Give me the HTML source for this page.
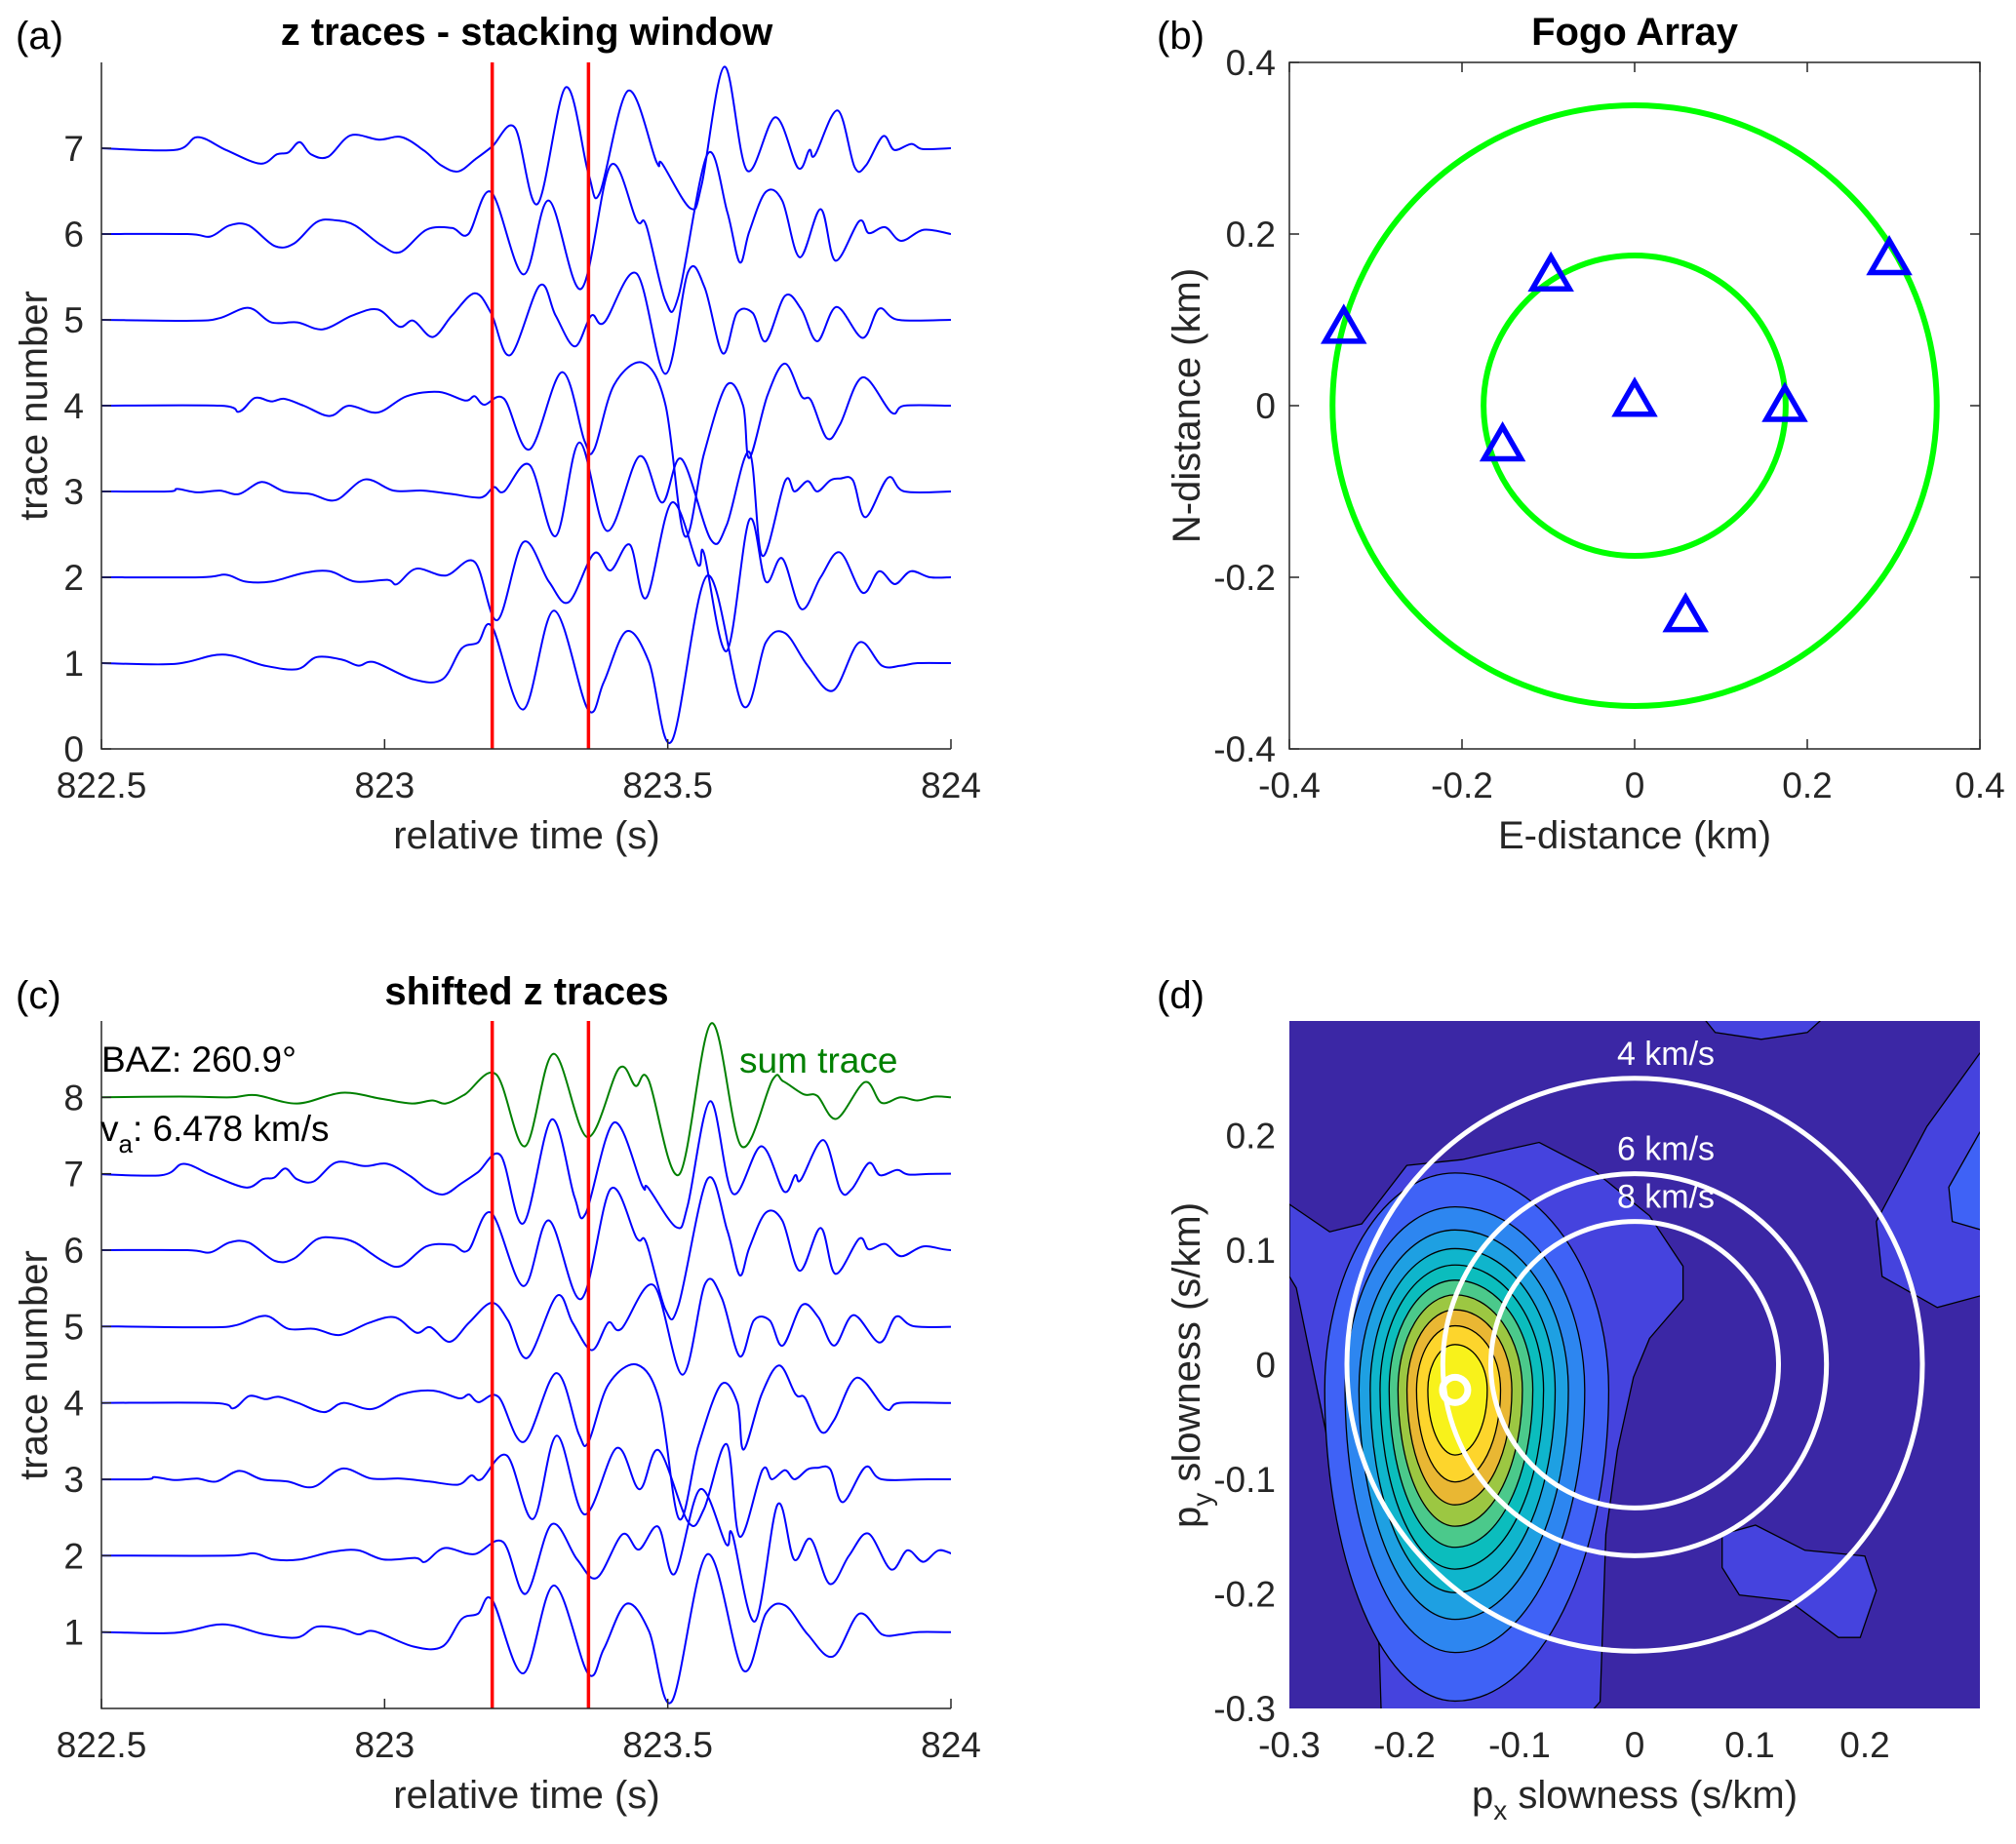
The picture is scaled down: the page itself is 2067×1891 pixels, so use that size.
<!DOCTYPE html>
<html><head><meta charset="utf-8"><style>
html,body{margin:0;padding:0;background:#fff;}
svg{display:block;font-family:"Liberation Sans",Arial,sans-serif;}
</style></head><body>
<svg id="fig" width="2067" height="1891" viewBox="0 0 2067 1891" xmlns="http://www.w3.org/2000/svg">
<defs><clipPath id="clipD"><rect x="1322" y="1047" width="708" height="705"/></clipPath>
<clipPath id="clipA"><rect x="104" y="20" width="871" height="748"/></clipPath>
<clipPath id="clipC"><rect x="104" y="1000" width="871" height="752"/></clipPath></defs>
<g id="gA"></g>
<g id="gB"></g>
<g id="gC"></g>
<g id="gD"></g>
</svg>
<script>
// ---------- DATA ----------
const traceTimes = [
 [822.5,822.629,822.714,822.788,822.846,822.88,822.925,822.954,822.982,823.051,823.102,823.136,823.165,823.19,823.245,823.299,823.359,823.387,823.427,823.467,823.507,823.57,823.633,823.673,823.707,823.747,823.792,823.838,823.878,823.912,823.941,824],
 [822.5,822.675,822.72,822.754,822.8,822.857,822.903,822.948,823.005,823.022,823.056,823.108,823.159,823.199,823.245,823.29,823.325,823.37,823.399,823.433,823.462,823.507,823.553,823.564,823.604,823.644,823.673,823.702,823.736,823.77,823.804,823.844,823.873,823.901,823.929,823.963,824],
 [822.5,822.617,822.634,822.669,822.709,822.743,822.783,822.823,822.869,822.914,822.965,823.016,823.068,823.119,823.17,823.193,823.211,823.256,823.302,823.344,823.393,823.45,823.49,823.524,823.576,823.604,823.644,823.667,823.707,823.724,823.747,823.764,823.787,823.804,823.827,823.849,823.889,823.918,824],
 [822.5,822.709,822.743,822.771,822.8,822.823,822.857,822.903,822.937,822.988,823.039,823.096,823.142,823.159,823.176,823.211,823.256,823.313,823.353,823.37,823.405,823.456,823.496,823.53,823.564,823.604,823.633,823.644,823.676,823.707,823.736,823.753,823.781,823.804,823.844,823.895,823.918,824],
 [822.5,822.663,822.709,822.76,822.8,822.846,822.891,822.943,822.988,823.026,823.051,823.085,823.119,823.159,823.188,823.222,823.274,823.302,823.336,823.365,823.388,823.445,823.496,823.536,823.565,823.597,823.622,823.65,823.673,823.707,823.736,823.764,823.798,823.844,823.873,823.907,824],
 [822.5,822.652,822.692,822.726,822.76,822.806,822.84,822.88,822.914,822.948,822.994,823.028,823.074,823.119,823.148,823.188,823.245,823.29,823.347,823.399,823.445,823.462,823.496,823.519,823.57,823.605,823.627,823.644,823.673,823.702,823.733,823.77,823.796,823.838,823.855,823.884,823.912,823.952,824],
 [822.5,822.63,822.67,822.72,822.78,822.81,822.83,822.85,822.87,822.9,822.94,822.99,823.03,823.07,823.1,823.13,823.16,823.19,823.23,823.27,823.32,823.36,823.38,823.43,823.48,823.49,823.54,823.56,823.6,823.64,823.69,823.73,823.75,823.76,823.8,823.83,823.85,823.88,823.9,823.93,823.95,824]
];
const traceAmps = [
 [0,-0.01,0.1,-0.03,-0.07,0.07,0.04,-0.03,0.01,-0.19,-0.19,0.17,0.24,0.42,-0.54,0.61,-0.54,-0.22,0.37,0.01,-0.91,1.02,-0.5,0.24,0.35,-0.03,-0.32,0.24,-0.03,-0.03,0,0],
 [0,0,0.03,-0.05,-0.05,0.05,0.07,-0.05,-0.03,-0.08,0.1,0.02,0.18,-0.5,0.41,-0.05,-0.29,0.28,0.08,0.38,-0.24,0.87,0.15,0.28,-0.86,0.67,-0.05,0.22,-0.37,0,0.29,-0.18,0.07,-0.08,0.07,0,0],
 [0,0,0.03,-0.01,0.01,-0.03,0.11,0,-0.03,-0.1,0.14,0.01,0.01,-0.03,-0.07,0.05,0,0.31,-0.52,0.57,-0.46,0.41,-0.13,0.38,-0.56,-0.39,0.46,-0.75,0.12,0,0.12,0,0.13,0.15,0.13,-0.3,0.16,0,0],
 [0,0,-0.07,0.09,0.05,0.08,0,-0.12,0,-0.08,0.11,0.16,0.06,0.11,0.01,0.08,-0.51,0.39,-0.41,-0.51,0.24,0.5,0.01,-1.52,-0.56,0.24,0,-0.61,0.12,0.49,0.11,0.06,-0.38,-0.22,0.33,-0.08,0,0],
 [0,-0.01,0.02,0.14,-0.03,-0.03,-0.11,0.05,0.12,-0.08,-0.01,-0.2,0.05,0.31,0.08,-0.41,0.4,0.05,-0.31,0.05,-0.03,0.54,-0.63,0.56,0.38,-0.39,0.08,0.08,-0.25,0.28,0.12,-0.25,0.15,-0.21,0.13,0,0],
 [0,0,-0.03,0.1,0.1,-0.14,-0.11,0.14,0.16,0.1,-0.13,-0.21,0.05,0.07,0,0.49,-0.47,0.39,-0.64,0.8,0.16,0.1,-0.78,-0.72,0.93,0.26,-0.33,0.03,0.49,0.39,-0.27,0.29,-0.31,0.15,0.01,0.08,-0.08,0.05,0],
 [0,-0.02,0.13,-0.02,-0.18,-0.07,-0.05,0.07,-0.07,-0.1,0.15,0.1,0.13,-0.03,-0.2,-0.27,-0.13,0.02,0.24,-0.65,0.71,-0.3,-0.52,0.67,-0.16,-0.18,-0.7,-0.42,0.95,-0.26,0.36,-0.23,-0.02,-0.08,0.44,-0.22,-0.2,0.14,-0.02,0.05,-0.01,0]
];
const shiftsC = [0, 0.05, -0.04, -0.01, 0.03, 0.0, -0.025];
const sumTimes = [822.49,822.639,822.728,822.772,822.846,822.925,822.995,823.048,823.084,823.108,823.142,823.197,823.248,823.298,823.358,823.414,823.443,823.466,823.52,823.577,823.63,823.685,823.704,823.74,823.764,823.798,823.848,823.877,823.911,823.941,823.971,824];
const sumAmps = [0,0.01,0,0.03,-0.08,0.06,-0.02,-0.08,-0.04,-0.08,0.04,0.3,-0.64,0.57,-0.52,0.38,0.15,0.23,-1.01,0.97,-0.64,0.23,0.21,0.04,0.02,-0.28,0.2,-0.07,0,-0.04,0.01,0];
const windowTimes = [823.19, 823.36];
const timeTicks = [822.5, 823, 823.5, 824];
const timeTickLabels = ["822.5","823","823.5","824"];
const stationE = [-0.337,-0.097,0.295,0,0.174,-0.153,0.059];
const stationN = [0.091,0.152,0.171,0.006,0.0,-0.046,-0.245];
const ringRadii = [0.35, 0.175];
const kmTicks = [-0.4,-0.2,0,0.2,0.4];
const kmTickLabels = ["-0.4","-0.2","0","0.2","0.4"];
const slowTicks = [-0.3,-0.2,-0.1,0,0.1,0.2];
const slowTickLabels = ["-0.3","-0.2","-0.1","0","0.1","0.2"];
const velocities = [4, 6, 8];
const peakPx = -0.156, peakPy = -0.022;
const contourLevels = [0.09,0.18,0.27,0.36,0.45,0.54,0.63,0.72,0.81,0.9];
const contourColors = ["#3f62f6","#2d86f0","#1ea0e2","#0fb5cc","#0bbdbd","#4bc98b","#9cc742","#e9b733","#fdd52c","#f8f21b"];
const blobMainX = [-0.3,-0.265,-0.237,-0.198,-0.15,-0.083,-0.035,0.013,0.042,0.042,0.013,-0.001,-0.015,-0.025,-0.03,-0.044,-0.22,-0.222,-0.232,-0.26,-0.294,-0.3];
const blobMainY = [0.14,0.116,0.123,0.174,0.179,0.194,0.169,0.13,0.086,0.057,0.023,-0.011,-0.075,-0.148,-0.294,-0.31,-0.31,-0.245,-0.177,-0.099,0.067,0.077];
const blobTopX = [0.054,0.07,0.11,0.15,0.172];
const blobTopY = [0.31,0.29,0.284,0.29,0.31];
const blobRightX = [0.31,0.3,0.254,0.21,0.215,0.263,0.3,0.31];
const blobRightY = [0.28,0.272,0.208,0.125,0.077,0.05,0.06,0.06];
const blobRight2X = [0.31,0.3,0.273,0.276,0.3,0.31];
const blobRight2Y = [0.21,0.203,0.155,0.125,0.118,0.118];
const blobBRX = [0.076,0.105,0.148,0.2,0.21,0.196,0.177,0.134,0.091,0.076];
const blobBRY = [-0.148,-0.14,-0.162,-0.167,-0.197,-0.238,-0.238,-0.206,-0.201,-0.177];
const sigL = 0.073, sigR = 0.086, sigU = 0.122, sigD = 0.175;

// ---------- HELPERS ----------
const NS = "http://www.w3.org/2000/svg";
const TF = 37, LF = 40;
function lin(d0,d1,r0,r1){return v=>r0+(v-d0)*(r1-r0)/(d1-d0);}
function mk(parent, tag, attrs){const e=document.createElementNS(NS,tag);for(const k in attrs)e.setAttribute(k,attrs[k]);parent.appendChild(e);return e;}
function txt(parent, x, y, s, size, anchor, extra){const t=mk(parent,'text',Object.assign({x:x,y:y,'font-size':size,'text-anchor':anchor||'middle',fill:'#262626'},extra||{}));t.textContent=s;return t;}
function smooth(pts){
  let d=`M${pts[0][0].toFixed(1)},${pts[0][1].toFixed(1)}`;
  for(let i=0;i<pts.length-1;i++){
    const p0=pts[Math.max(0,i-1)],p1=pts[i],p2=pts[i+1],p3=pts[Math.min(pts.length-1,i+2)];
    const c1=[p1[0]+(p2[0]-p0[0])/6,p1[1]+(p2[1]-p0[1])/6];
    const c2=[p2[0]-(p3[0]-p1[0])/6,p2[1]-(p3[1]-p1[1])/6];
    d+=`C${c1[0].toFixed(1)},${c1[1].toFixed(1)} ${c2[0].toFixed(1)},${c2[1].toFixed(1)} ${p2[0].toFixed(1)},${p2[1].toFixed(1)}`;
  }
  return d;
}
function poly(xs,ys,X,Y){return 'M'+xs.map((v,i)=>X(v).toFixed(1)+','+Y(ys[i]).toFixed(1)).join('L')+'Z';}

// ---------- PANEL A ----------
(function(){
  const g=document.getElementById('gA');
  const X=lin(822.5,824,104,975), Y=lin(0,8,768,64);
  const tg=mk(g,'g',{'clip-path':'url(#clipA)'});
  traceTimes.forEach((ts,k)=>{
    const pts=ts.map((t,i)=>[X(t),Y(k+1+traceAmps[k][i])]);
    const p=mk(tg,'path',{d:smooth(pts),fill:'none',stroke:'#0000ff','stroke-width':2});
    
    
  });
  windowTimes.forEach((t,i)=>{
    const l=mk(g,'line',{x1:X(t),x2:X(t),y1:Y(0),y2:Y(8),stroke:'#ff0000','stroke-width':3.5});
    
    
  });
  mk(g,'path',{d:`M104,64V768H975`,fill:'none',stroke:'#262626','stroke-width':1.5});
  timeTicks.forEach((t,i)=>{mk(g,'line',{x1:X(t),x2:X(t),y1:768,y2:758,stroke:'#262626','stroke-width':1.5});
    const e=txt(g,X(t),818,timeTickLabels[i],TF);});
  for(let v=0;v<=7;v++){mk(g,'line',{x1:104,x2:114,y1:Y(v),y2:Y(v),stroke:'#262626','stroke-width':1.5});
    const e=txt(g,86,Y(v)+13,String(v),TF,'end');}
  txt(g,540,870,'relative time (s)',LF);
  txt(g,0,0,'trace number',LF,'middle',{transform:'translate(48,416) rotate(-90)'});
  txt(g,540,46,'z traces - stacking window',LF,'middle',{'font-weight':'bold',fill:'#000'});
  txt(g,16,50,'(a)',LF,'start',{fill:'#000'});
})();

// ---------- PANEL B ----------
(function(){
  const g=document.getElementById('gB');
  const X=lin(-0.4,0.4,1322,2030), Y=lin(-0.4,0.4,768,64);
  mk(g,'rect',{x:1322,y:64,width:708,height:704,fill:'#fff',stroke:'#262626','stroke-width':1.5});
  kmTicks.forEach((v,i)=>{
    mk(g,'line',{x1:X(v),x2:X(v),y1:768,y2:758,stroke:'#262626','stroke-width':1.5});
    mk(g,'line',{x1:X(v),x2:X(v),y1:64,y2:74,stroke:'#262626','stroke-width':1.5});
    mk(g,'line',{x1:1322,x2:1332,y1:Y(v),y2:Y(v),stroke:'#262626','stroke-width':1.5});
    mk(g,'line',{x1:2030,x2:2020,y1:Y(v),y2:Y(v),stroke:'#262626','stroke-width':1.5});
    const a=txt(g,X(v),818,kmTickLabels[i],TF);
    const b=txt(g,1308,Y(v)+13,kmTickLabels[i],TF,'end');
  });
  ringRadii.forEach((r,i)=>{
    const c=mk(g,'ellipse',{cx:X(0),cy:Y(0),rx:X(r)-X(0),ry:Y(0)-Y(r),fill:'none',stroke:'#00ff00','stroke-width':6});
    
    
  });
  stationE.forEach((e,i)=>{
    const cx=X(e), cy=Y(stationN[i]);
    const p=mk(g,'path',{d:`M${cx},${cy-19}L${cx+19},${cy+14}L${cx-19},${cy+14}Z`,fill:'none',stroke:'#0000ff','stroke-width':5.5});
    
    
  });
  txt(g,1676,870,'E-distance (km)',LF);
  txt(g,0,0,'N-distance (km)',LF,'middle',{transform:'translate(1230,416) rotate(-90)'});
  txt(g,1676,46,'Fogo Array',LF,'middle',{'font-weight':'bold',fill:'#000'});
  txt(g,1186,50,'(b)',LF,'start',{fill:'#000'});
})();

// ---------- PANEL C ----------
(function(){
  const g=document.getElementById('gC');
  const X=lin(822.5,824,104,975), Y=lin(0,9,1752,1047);
  const tg=mk(g,'g',{'clip-path':'url(#clipC)'});
  traceTimes.forEach((ts,k)=>{
    const pts=ts.map((t,i)=>[X(t+shiftsC[k]),Y(k+1+traceAmps[k][i])]);
    pts.unshift([X(822.4),Y(k+1)]);pts.push([X(824.1),Y(k+1)]);
    const p=mk(tg,'path',{d:smooth(pts),fill:'none',stroke:'#0000ff','stroke-width':2});
    
    
  });
  const sp=mk(tg,'path',{d:smooth(sumTimes.map((t,i)=>[X(t),Y(8+sumAmps[i])])),fill:'none',stroke:'#008000','stroke-width':2});
  
  
  windowTimes.forEach((t,i)=>{
    const l=mk(g,'line',{x1:X(t),x2:X(t),y1:Y(0),y2:Y(9),stroke:'#ff0000','stroke-width':3.5});
    
    
  });
  mk(g,'path',{d:`M104,1047V1752H975`,fill:'none',stroke:'#262626','stroke-width':1.5});
  timeTicks.forEach((t,i)=>{mk(g,'line',{x1:X(t),x2:X(t),y1:1752,y2:1742,stroke:'#262626','stroke-width':1.5});
    const e=txt(g,X(t),1802,timeTickLabels[i],TF);});
  for(let v=1;v<=8;v++){mk(g,'line',{x1:104,x2:114,y1:Y(v),y2:Y(v),stroke:'#262626','stroke-width':1.5});
    const e=txt(g,86,Y(v)+13,String(v),TF,'end');}
  txt(g,104,1099,'BAZ: 260.9°',TF,'start',{fill:'#000'});
  const va=mk(g,'text',{x:103,y:1170,'font-size':TF,fill:'#000'});
  va.innerHTML='v<tspan font-size="26" dy="12">a</tspan><tspan dy="-12">: 6.478 km/s</tspan>';
  txt(g,758,1100,'sum trace',TF,'start',{fill:'#008000'});
  txt(g,540,1854,'relative time (s)',LF);
  txt(g,0,0,'trace number',LF,'middle',{transform:'translate(48,1400) rotate(-90)'});
  txt(g,540,1030,'shifted z traces',LF,'middle',{'font-weight':'bold',fill:'#000'});
  txt(g,16,1034,'(c)',LF,'start',{fill:'#000'});
})();

// ---------- PANEL D ----------
(function(){
  const g=document.getElementById('gD');
  const X=lin(-0.3,0.3,1322,2030), Y=lin(-0.3,0.3,1752,1047);
  const cg=mk(g,'g',{'clip-path':'url(#clipD)'});
  mk(cg,'rect',{x:1322,y:1047,width:708,height:705,fill:'#3b27a5'});
  [[blobMainX,blobMainY],[blobTopX,blobTopY],[blobRightX,blobRightY],[blobBRX,blobBRY]].forEach((b,i)=>{
    const p=mk(cg,'path',{d:poly(b[0],b[1],X,Y),fill:'#4543de',stroke:'#000','stroke-width':1.3});
    
    
  });
  mk(cg,'path',{d:poly(blobRight2X,blobRight2Y,X,Y),fill:'#3f62f6',stroke:'#000','stroke-width':1.3});
  const cx=X(peakPx), cy=Y(peakPy);
  contourLevels.forEach((lv,i)=>{
    const s=Math.sqrt(-Math.log(lv));
    const rL=X(peakPx+sigL*s)-X(peakPx), rR=rL*sigR/sigL, rU=Y(0)-Y(sigU*s), rD=Y(0)-Y(sigD*s);
    const d=`M${cx-rL},${cy}A${rL},${rU} 0 0 1 ${cx},${cy-rU}A${rR},${rU} 0 0 1 ${cx+rR},${cy}A${rR},${rD} 0 0 1 ${cx},${cy+rD}A${rL},${rD} 0 0 1 ${cx-rL},${cy}Z`;
    const p=mk(cg,'path',{d:d,fill:contourColors[i],stroke:'#000','stroke-width':1.3});
    
    
  });
  velocities.forEach((v,i)=>{
    const r=1/v;
    const c=mk(cg,'ellipse',{cx:X(0),cy:Y(0),rx:X(r)-X(0),ry:Y(0)-Y(r),fill:'none',stroke:'#fff','stroke-width':5});
    
    
    const t=txt(g,X(0)+32,Y(r)-14,v+' km/s',34,'middle',{fill:'#fff'});
    
    
  });
  const pk=mk(cg,'circle',{cx:cx,cy:cy,r:13,fill:'none',stroke:'#fff','stroke-width':7});
  
  
  slowTicks.forEach((v,i)=>{
    const a=txt(g,X(v),1802,slowTickLabels[i],TF);
    const b=txt(g,1308,Y(v)+13,slowTickLabels[i],TF,'end');
  });
  const xl=mk(g,'text',{x:1676,y:1854,'font-size':LF,'text-anchor':'middle',fill:'#262626'});
  xl.innerHTML='p<tspan font-size="28" dy="12">x</tspan><tspan dy="-12"> slowness (s/km)</tspan>';
  const yl=mk(g,'text',{x:0,y:0,'font-size':LF,'text-anchor':'middle',fill:'#262626',transform:'translate(1230,1400) rotate(-90)'});
  yl.innerHTML='p<tspan font-size="28" dy="12">y</tspan><tspan dy="-12"> slowness (s/km)</tspan>';
  txt(g,1186,1034,'(d)',LF,'start',{fill:'#000'});
})();
</script>
</body></html>
